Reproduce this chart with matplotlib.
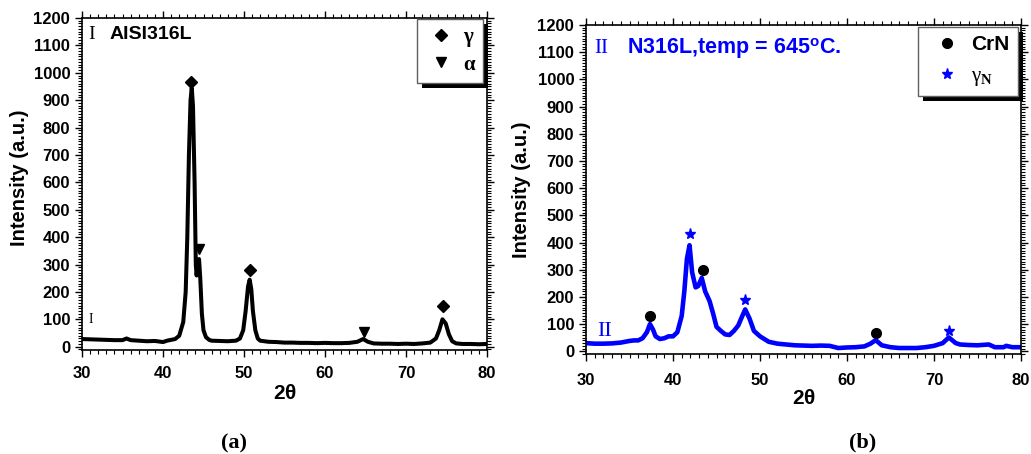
import matplotlib
matplotlib.use("Agg")
import matplotlib.pyplot as plt
from matplotlib.ticker import MultipleLocator
from matplotlib.patches import Rectangle
from matplotlib.lines import Line2D

plt.rcParams['font.family'] = ['Liberation Sans', 'DejaVu Sans']
plt.rcParams['mathtext.fontset'] = 'custom'
plt.rcParams['mathtext.rm'] = 'Liberation Serif'
plt.rcParams['mathtext.it'] = 'Liberation Serif:italic'
plt.rcParams['mathtext.bf'] = 'Liberation Serif:bold'
plt.rcParams['mathtext.sf'] = 'Liberation Sans:bold'

# ---------------- data: panel (a) AISI316L ----------------
a_2theta = [30, 31, 32, 33, 34, 35, 35.5, 36, 37, 38, 39, 40, 40.5, 41, 41.5, 42, 42.5, 42.8,
            43.0, 43.2, 43.4, 43.55, 43.7, 43.9, 44.05, 44.15, 44.3, 44.45, 44.6, 44.8, 45.0,
            45.3, 45.7, 46, 47, 48, 49, 49.5, 49.9, 50.2, 50.5, 50.7, 50.9, 51.1, 51.4, 51.7,
            52, 53, 54, 55, 56, 57, 58, 59, 60, 61, 62, 63, 64, 64.7, 65.3, 66, 67, 68, 69,
            70, 71, 72, 73, 73.7, 74.1, 74.5, 74.9, 75.3, 75.7, 76.2, 77, 78, 79, 80]
a_intensity = [28, 27, 26, 25, 24, 24, 30, 24, 22, 20, 21, 17, 22, 25, 28, 40, 90, 200,
               400, 700, 900, 945, 880, 600, 300, 260, 310, 320, 250, 120, 60,
               35, 25, 22, 21, 20, 22, 30, 60, 130, 220, 245, 210, 130, 60, 30,
               22, 18, 17, 15, 15, 14, 14, 13, 14, 13, 13, 14, 18, 28, 18, 12, 11, 11, 10,
               11, 10, 12, 15, 30, 60, 100, 85, 45, 20, 12, 10, 10, 9, 10]
a_gamma_x = [43.5, 50.7, 74.6]
a_gamma_y = [968, 280, 149]
a_alpha_x = [44.4, 64.8]
a_alpha_y = [355, 55]

# ---------------- data: panel (b) N316L ----------------
b_2theta = [30, 31, 32, 33, 34, 35, 35.5, 36, 36.5, 37.0, 37.35, 37.7, 38.0, 38.5, 39.0, 39.5,
            40.0, 40.5, 41.0, 41.3, 41.6, 41.9, 42.2, 42.6, 42.9, 43.3, 43.7, 44.2, 44.6,
            45.0, 45.5, 46.0, 46.5, 47.0, 47.5, 47.9, 48.3, 48.8, 49.3, 50.0, 51, 52, 53,
            54, 55, 56, 57, 58, 59, 60, 61, 62, 62.7, 63.3, 64, 65, 66, 67, 68, 69, 70, 71,
            71.7, 72.5, 73, 74, 75, 76.3, 77, 78, 78.3, 79, 80]
b_intensity = [30, 28, 28, 29, 32, 38, 40, 40, 48, 70, 100, 80, 55, 45, 48, 55,
               55, 70, 130, 220, 340, 390, 290, 235, 240, 270, 220, 185, 140,
               90, 75, 62, 60, 75, 95, 125, 154, 120, 75, 55, 35, 28, 25,
               22, 21, 20, 21, 20, 12, 14, 15, 18, 28, 41, 22, 15, 12, 12, 12, 15, 20, 30,
               51, 30, 25, 23, 22, 25, 15, 15, 20, 15, 15]
b_crn_x = [37.3, 43.4, 63.3]
b_crn_y = [130, 300, 66]
b_gn_x = [41.9, 48.3, 71.7]
b_gn_y = [430, 188, 74]

W, H = 1031, 454
fig = plt.figure(figsize=(W / 100, H / 100), dpi=100)

def px_axes(l, t, r, b):
    return fig.add_axes([l / W, 1 - b / H, (r - l) / W, (b - t) / H])

ax1 = px_axes(82, 18, 487, 350)
ax2 = px_axes(586, 25, 1021, 354)

for ax in (ax1, ax2):
    ax.set_xlim(30, 80)
    ax.set_ylim(-10, 1200)
    ax.set_yticks(range(0, 1201, 100))
    ax.xaxis.set_major_locator(MultipleLocator(10))
    ax.xaxis.set_minor_locator(MultipleLocator(1))
    ax.yaxis.set_minor_locator(MultipleLocator(10))
    ax.tick_params(which='both', direction='out', top=True, right=True,
                   labeltop=False, labelright=False, width=1)
    ax.tick_params(which='major', length=5)
    ax.tick_params(which='minor', length=3, width=0.8)
    for lab in ax.get_xticklabels() + ax.get_yticklabels():
        lab.set_fontweight('bold')
        lab.set_fontsize(12)
    for s in ax.spines.values():
        s.set_linewidth(1.2)
    ax.set_ylabel('Intensity (a.u.)', fontsize=14.5, fontweight='bold')
    ax.set_xlabel(r'2$\mathsf{\theta}$', fontsize=15, fontweight='bold')

ax1.set_ylim(-12, 1200)
ax1.tick_params(axis='x', which='major', pad=6.5)
ax2.tick_params(axis='x', which='major', pad=8.5)

ax1.yaxis.set_label_coords((29 - 82) / 405, 0.52)
ax2.yaxis.set_label_coords((531 - 586) / 435, 0.5)
ax1.xaxis.set_label_coords(0.5, -(384 - 350) / 332)
ax2.xaxis.set_label_coords(0.5, -(389 - 354) / 329)

# panel (a)
ax1.plot(a_2theta, a_intensity, color='black', lw=2.9, solid_joinstyle='round')
ax1.plot(a_gamma_x, a_gamma_y, ls='none', marker='D', ms=6, color='black')
ax1.plot(a_alpha_x, a_alpha_y, ls='none', marker='v', ms=7, color='black')
ax1.text(30.8, 1138, 'I', fontsize=14, family='Liberation Serif', va='center')
ax1.text(33.4, 1138, 'AISI316L', fontsize=14, fontweight='bold', va='center')
ax1.text(30.8, 100, 'I', fontsize=10, family='Liberation Serif', va='center')

# panel (b)
ax2.plot(b_2theta, b_intensity, color='#0000ff', lw=3.3, solid_joinstyle='round')
ax2.plot(b_crn_x, b_crn_y, ls='none', marker='o', ms=7, color='black')
ax2.plot(b_gn_x, b_gn_y, ls='none', marker='*', ms=8, color='#0000ff')
ax2.text(31.0, 1112, 'II', fontsize=15, family='Liberation Serif', color='#0000ff', va='center')
ax2.text(34.7, 1112, r'N316L,temp = 645$^{\mathsf{o}}$C.', fontsize=15.5, fontweight='bold',
         color='#0000ff', va='center')
ax2.text(31.3, 72, 'II', fontsize=16, family='Liberation Serif', color='#0000ff', va='center')

# legends
h1 = [Line2D([], [], ls='none', marker='D', ms=6, color='black'),
      Line2D([], [], ls='none', marker='v', ms=7, color='black')]
leg1 = ax1.legend(h1, ['γ', 'α'], loc='upper left', bbox_to_anchor=(417 / W, 1 - 19 / H),
                  bbox_transform=fig.transFigure, fancybox=False, framealpha=1,
                  edgecolor='#606060', borderpad=0.4, handletextpad=0.3,
                  labelspacing=0.35, handlelength=1.5, borderaxespad=0,
                  prop={'size': 15, 'weight': 'bold', 'family': 'Liberation Serif'})

h2 = [Line2D([], [], ls='none', marker='o', ms=7, color='black'),
      Line2D([], [], ls='none', marker='*', ms=8, color='#0000ff')]
leg2 = ax2.legend(h2, ['CrN', r'$\mathrm{\gamma}_{\mathbf{N}}$'], loc='upper left',
                  bbox_to_anchor=(918 / W, 1 - 27 / H),
                  bbox_transform=fig.transFigure, fancybox=False, framealpha=1,
                  edgecolor='#606060', borderpad=0.4, handletextpad=0.15,
                  labelspacing=0.55, handlelength=2.0, borderaxespad=0,
                  prop={'size': 15, 'weight': 'bold'})

for leg in (leg1, leg2):
    leg.get_frame().set_linewidth(1.0)
    leg.set_zorder(10)

fig.canvas.draw()
inv = fig.transFigure.inverted()
for ax, leg in ((ax1, leg1), (ax2, leg2)):
    bb = leg.get_frame().get_window_extent()
    (fx0, fy0), (fx1, fy1) = inv.transform([[bb.x0 + 5, bb.y0 - 5], [bb.x1 + 5, bb.y1 - 5]])
    ax.add_patch(Rectangle((fx0, fy0), fx1 - fx0, fy1 - fy0, transform=fig.transFigure,
                           facecolor='black', edgecolor='none', zorder=9, clip_on=False))

fig.text(234 / W, 1 - 443 / H, '(a)', fontsize=16, fontweight='bold',
         family='Liberation Serif', ha='center', va='center')
fig.text(863 / W, 1 - 442 / H, '(b)', fontsize=16, fontweight='bold',
         family='Liberation Serif', ha='center', va='center')

fig.savefig('out.png', dpi=100)
